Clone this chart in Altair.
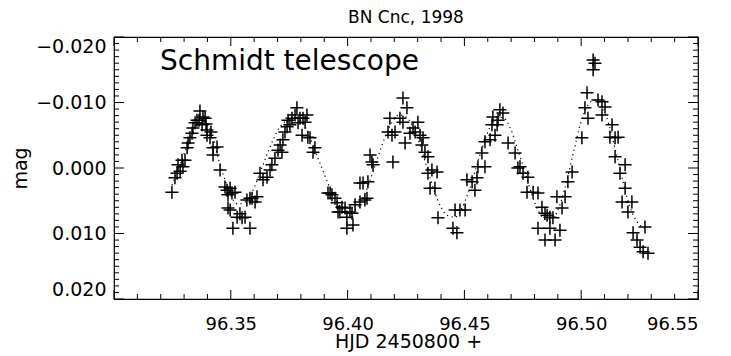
import altair as alt
import pandas as pd

# ---- observed light curve (HJD - 2450800, differential mag) ----
hjd = [
    96.3248, 96.3261, 96.3270, 96.3283, 96.3274, 96.3295, 96.3291, 96.3304, 96.3313, 96.3317,
    96.3325, 96.3334, 96.3338, 96.3347, 96.3355, 96.3368, 96.3364, 96.3377, 96.3381, 96.3390,
    96.3394, 96.3398, 96.3398, 96.3411, 96.3415, 96.3424, 96.3424, 96.3441, 96.3454, 96.3475,
    96.3484, 96.3488, 96.3497, 96.3505, 96.3518, 96.3488, 96.3497, 96.3527, 96.3539, 96.3548,
    96.3561, 96.3509, 96.3582, 96.3569, 96.3582, 96.3591, 96.3604, 96.3612, 96.3625, 96.3638,
    96.3655, 96.3668, 96.3676, 96.3689, 96.3702, 96.3719, 96.3711, 96.3723, 96.3732, 96.3741,
    96.3745, 96.3753, 96.3762, 96.3775, 96.3783, 96.3788, 96.3796, 96.3809, 96.3818, 96.3826,
    96.3805, 96.3830, 96.3839, 96.3852, 96.3860,
    96.3916, 96.3925, 96.3933, 96.3946, 96.3955, 96.3959, 96.3967, 96.3976, 96.3989, 96.3997,
    96.4010, 96.4019, 96.3997, 96.4023, 96.4032, 96.4053, 96.4053, 96.4066, 96.4074, 96.4083,
    96.4087, 96.4096, 96.4104, 96.4109, 96.4194,
    96.4173, 96.4181, 96.4190, 96.4203, 96.4224, 96.4237, 96.4237, 96.4246, 96.4254, 96.4267,
    96.4280, 96.4289, 96.4301, 96.4310, 96.4318, 96.4323, 96.4331, 96.4344, 96.4344, 96.4361,
    96.4383, 96.4353, 96.4374, 96.4387,
    96.4451, 96.4468, 96.4460, 96.4481, 96.4503, 96.4511, 96.4533, 96.4545, 96.4554, 96.4558,
    96.4588, 96.4575, 96.4588, 96.4610, 96.4618, 96.4622, 96.4631, 96.4640, 96.4644, 96.4652,
    96.4665,
    96.4687, 96.4717, 96.4729, 96.4738, 96.4751, 96.4772, 96.4768, 96.4794, 96.4815, 96.4832,
    96.4845, 96.4854, 96.4866, 96.4879, 96.4815, 96.4866, 96.4909, 96.4845, 96.4888,
    96.4896, 96.4931, 96.4918, 96.4943, 96.4961,
    96.5003, 96.5016, 96.5025, 96.5029, 96.5051, 96.5059, 96.5051, 96.5072, 96.5089, 96.5102,
    96.5089, 96.5123, 96.5132, 96.5145, 96.5158, 96.5145, 96.5166, 96.5188, 96.5188, 96.5175,
    96.5217, 96.5200, 96.5273, 96.5222, 96.5239, 96.5252, 96.5265, 96.5286,
]
mag = [
    0.0037, 0.0015, 0.0008, 0.0005, -0.0005, -0.0002, -0.0012, -0.0012, -0.0031, -0.0038,
    -0.0046, -0.0053, -0.0061, -0.0069, -0.0073, -0.0087, -0.0073, -0.0066, -0.0078, -0.0076,
    -0.0067, -0.0058, -0.0050, -0.0046, -0.0055, -0.0031, -0.0020, -0.0032, 0.0003, 0.0029,
    0.0034, 0.0041, 0.0031, 0.0038, 0.0037, 0.0061, 0.0064, 0.0075, 0.0070, 0.0076,
    0.0075, 0.0092, 0.0092, 0.0049, 0.0046, 0.0046, 0.0052, 0.0044, 0.0008, 0.0018,
    0.0014, 0.0003, -0.0005, -0.0015, -0.0027, -0.0024, -0.0035, -0.0043, -0.0055, -0.0063,
    -0.0073, -0.0066, -0.0076, -0.0081, -0.0092, -0.0069, -0.0076, -0.0076, -0.0070, -0.0081,
    -0.0050, -0.0047, -0.0046, -0.0024, -0.0031,
    0.0038, 0.0038, 0.0041, 0.0046, 0.0053, 0.0067, 0.0067, 0.0060, 0.0061, 0.0075,
    0.0067, 0.0069, 0.0092, 0.0087, 0.0056, 0.0052, 0.0023, 0.0023, 0.0049, 0.0046,
    0.0021, -0.0020, -0.0009, -0.0005, -0.0009,
    -0.0055, -0.0076, -0.0050, -0.0055, -0.0076, -0.0107, -0.0070, -0.0038, -0.0092, -0.0053,
    -0.0061, -0.0055, -0.0070, -0.0050, -0.0035, -0.0046, -0.0024, -0.0017, 0.0008, 0.0003,
    0.0006, 0.0031, 0.0031, 0.0076,
    0.0092, 0.0099, 0.0064, 0.0064, 0.0064, 0.0018, 0.0021, 0.0034, 0.0015, -0.0002,
    -0.0002, -0.0023, -0.0040, -0.0043, -0.0066, -0.0078, -0.0050, -0.0066, -0.0073, -0.0089,
    -0.0084,
    -0.0038, -0.0023, 0.0000, -0.0002, 0.0008, 0.0014, 0.0037, 0.0037, 0.0038, 0.0060,
    0.0069, 0.0072, 0.0075, 0.0076, 0.0092, 0.0092, 0.0095, 0.0110, 0.0110,
    0.0044, 0.0044, 0.0061, 0.0021, 0.0006,
    -0.0046, -0.0092, -0.0115, -0.0076, -0.0165, -0.0160, -0.0150, -0.0104, -0.0101, -0.0093,
    -0.0081, -0.0047, -0.0066, -0.0046, -0.0047, -0.0017, 0.0008, -0.0005, 0.0031, 0.0052,
    0.0052, 0.0067, 0.0090, 0.0099, 0.0110, 0.0121, 0.0128, 0.0130,
]

# ---- fitted curve (dotted) ----
fit_hjd = [
    96.3248, 96.3283, 96.3317, 96.3347, 96.3372, 96.3398, 96.3424, 96.3449, 96.3475, 96.3501,
    96.3531, 96.3561, 96.3591, 96.3621, 96.3651, 96.3681, 96.3711, 96.3741, 96.3771, 96.3801,
    96.3830, 96.3860, 96.3890, 96.3920, 96.3950, 96.3980, 96.4010, 96.4040, 96.4070, 96.4100,
    96.4130, 96.4160, 96.4190, 96.4220, 96.4250, 96.4280, 96.4310, 96.4340, 96.4370, 96.4400,
    96.4430, 96.4460, 96.4490, 96.4520, 96.4550, 96.4580, 96.4610, 96.4640, 96.4670, 96.4700,
    96.4729, 96.4759, 96.4789, 96.4819, 96.4849, 96.4879, 96.4909, 96.4939, 96.4969, 96.4999,
    96.5029, 96.5059, 96.5089, 96.5119, 96.5149, 96.5179, 96.5209, 96.5239, 96.5269,
]
fit_mag = [
    0.0026, -0.0005, -0.0038, -0.0063, -0.0073, -0.0069, -0.0046, -0.0012, 0.0018, 0.0043,
    0.0055, 0.0052, 0.0037, 0.0011, -0.0017, -0.0043, -0.0063, -0.0073, -0.0078, -0.0072,
    -0.0055, -0.0027, 0.0000, 0.0027, 0.0049, 0.0063, 0.0067, 0.0061, 0.0043, 0.0015,
    -0.0017, -0.0047, -0.0070, -0.0081, -0.0078, -0.0063, -0.0035, 0.0000, 0.0034, 0.0060,
    0.0073, 0.0075, 0.0061, 0.0034, 0.0000, -0.0035, -0.0063, -0.0078, -0.0076, -0.0058,
    -0.0027, 0.0006, 0.0041, 0.0067, 0.0079, 0.0076, 0.0056, 0.0018, -0.0027, -0.0070,
    -0.0096, -0.0104, -0.0095, -0.0066, -0.0024, 0.0021, 0.0060, 0.0082, 0.0092,
]

# ---- axis ticks ----
x_labels = [96.35, 96.40, 96.45, 96.50, 96.55]
x_major = [96.30, 96.35, 96.40, 96.45, 96.50, 96.55]
x_minor = [round(96.30 + 0.01 * i, 2) for i in range(26) if i % 5]
y_major = [-0.02, -0.01, 0.0, 0.01, 0.02]
y_minor = [round(-0.02 + 0.001 * i, 3) for i in range(41) if i % 10]

W, H = 584, 262
FONT = "DejaVu Sans"
xs = alt.Scale(domain=[96.30, 96.55], nice=False, zero=False)
ys = alt.Scale(domain=[-0.02, 0.02], nice=False, zero=False, reverse=True)

x_axis = alt.Axis(
    values=x_labels, format=".2f", title="HJD 2450800 +",
    labelPadding=16, labelFontSize=18, titleFontSize=19,
    titleX=W / 2 + 2, titleY=48, titleAlign="center", titleBaseline="alphabetic")
y_axis = alt.Axis(
    values=y_major, format=".3f", title="mag", labelPadding=8, labelFlush=True,
    titleAngle=270, titleX=-88, titleY=H / 2, titleAlign="center",
    titleBaseline="alphabetic", titleFontSize=19)

obs = pd.DataFrame({"hjd": hjd, "mag": mag})
fit = pd.DataFrame({"hjd": fit_hjd, "mag": fit_mag})

plus = "M-1,0L1,0M0,-1L0,1"

points = alt.Chart(obs).mark_point(
    shape=plus, size=169, filled=False, color="black", strokeWidth=1.5, opacity=1
).encode(
    x=alt.X("hjd:Q", scale=xs, axis=x_axis),
    y=alt.Y("mag:Q", scale=ys, axis=y_axis),
)

fitline = alt.Chart(fit).mark_line(
    color="black", strokeWidth=1.2, strokeDash=[1.2, 3.5], interpolate="monotone"
).encode(
    x=alt.X("hjd:Q", scale=xs, axis=x_axis),
    y=alt.Y("mag:Q", scale=ys, axis=y_axis),
)


def xticks(vals, length, top):
    df = pd.DataFrame({"hjd": vals})
    y0 = 0 if top else H
    y1 = length if top else H - length
    return alt.Chart(df).mark_rule(color="black", strokeWidth=1).encode(
        x=alt.X("hjd:Q", scale=xs, axis=x_axis), y=alt.value(y0), y2=alt.value(y1))


def yticks(vals, length, right):
    df = pd.DataFrame({"mag": vals})
    x0 = W if right else 0
    x1 = W - length if right else length
    return alt.Chart(df).mark_rule(color="black", strokeWidth=1).encode(
        y=alt.Y("mag:Q", scale=ys, axis=y_axis), x=alt.value(x0), x2=alt.value(x1))


ticks = [
    xticks(x_major, 9, False), xticks(x_minor, 5, False),
    xticks(x_major, 9, True), xticks(x_minor, 5, True),
    yticks(y_major, 10, False), yticks(y_minor, 5, False),
    yticks(y_major, 10, True), yticks(y_minor, 5, True),
]

label = alt.Chart(pd.DataFrame({"txt": ["Schmidt telescope"]})).mark_text(
    font=FONT, fontSize=28, align="left", baseline="alphabetic", color="black"
).encode(x=alt.value(46), y=alt.value(33), text="txt:N")

chart = alt.layer(points, fitline, *ticks, label).properties(
    width=W, height=H,
    title=alt.TitleParams("BN Cnc, 1998", font=FONT, fontSize=17, fontWeight="normal",
                          color="black", anchor="middle", offset=10),
    autosize=alt.AutoSizeParams(type="none"),
    padding={"left": 106, "top": 29, "right": 25, "bottom": 53},
    background="white",
).configure_view(
    stroke="black", strokeWidth=1.2
).configure_axis(
    grid=False, domain=False, ticks=False, tickSize=0,
    labelFont=FONT, labelFontSize=19, labelColor="black",
    titleFont=FONT, titleFontSize=20, titleColor="black", titleFontWeight="normal",
)

chart.save("out.html", embed_options={"renderer": "svg", "actions": False})
